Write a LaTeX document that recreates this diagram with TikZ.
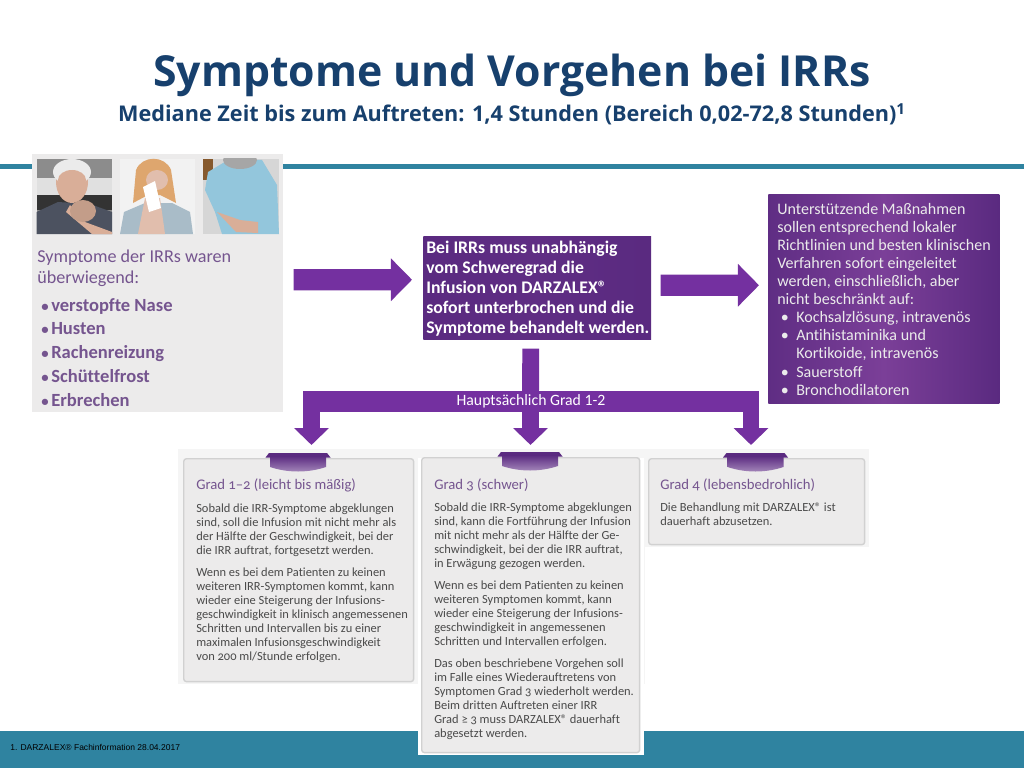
\documentclass[tikz,border=0pt]{standalone}
\usepackage{fontspec}
\usepackage{tikz}
\usetikzlibrary{arrows.meta}
\setmainfont[Ligatures=CommonOff]{Carlito}
\newfontfamily\titlefont{Open Sans}
\newfontfamily\footfont{Liberation Sans}
\newfontfamily\cardfont[Numbers=OldStyle,Ligatures=CommonOff]{Carlito}
\definecolor{teal}{HTML}{2F83A0}
\definecolor{navy}{HTML}{17406D}
\definecolor{arrowviolet}{HTML}{7430A0}
\definecolor{boxdark}{HTML}{5A2A80}
\definecolor{boxlight}{HTML}{7B3F98}
\definecolor{ribbonlight}{HTML}{A98DBE}
\definecolor{textviolet}{HTML}{75558F}
\definecolor{cardgrey}{HTML}{ECEBEB}
\definecolor{cardtext}{HTML}{4A4A4A}
\definecolor{skin}{HTML}{D9AE98}
\definecolor{shirt}{HTML}{4C5260}
\definecolor{sweater}{HTML}{A9BCC8}
\definecolor{jumper}{HTML}{93C6DC}
\newcommand{\symbullet}{\makebox[7.1pt][l]{\fontsize{10.5}{10}\selectfont\textbullet}}
\newcommand{\supbullet}{\hspace{2.5pt}\makebox[11pt][l]{\textbullet}}
\tikzset{
  Card/.style={rectangle, rounded corners=2pt, draw=black!18, line width=1pt, fill=cardgrey, anchor=north west, inner sep=0},
  CardHead/.style={anchor=north west, inner sep=0, align=left, text=textviolet, font=\cardfont\fontsize{10.45}{12}\selectfont},
  CardText/.style={anchor=north west, inner sep=0, align=left, text=cardtext, font=\cardfont\fontsize{8.85}{10}\selectfont},
  BlockRight/.style={draw=arrowviolet, line width=15pt, -{Triangle[length=15pt,width=29.5pt]}},
  BlockDown/.style={draw=arrowviolet, line width=12pt, -{Triangle[length=12pt,width=24pt]}},
  ribbon/.pic={
    \fill[boxdark] (-32.5,4.5) -- (-29,0) -- (29,0) -- (32.5,4.5) -- cycle;
    \shade[top color=boxdark, bottom color=ribbonlight] (-28,3) -- (28,3) -- (28,14) .. controls (10,20) and (-10,20) .. (-28,14) -- cycle;
  }
}
\begin{document}
\begin{tikzpicture}[x=0.025cm, y=-0.025cm]
    \useasboundingbox (0,0) rectangle (1024,768);

    % header and footer
    \fill[teal] (0,164) rectangle (1024,169);
    \fill[teal] (0,731) rectangle (1024,768);
    \path
    (512,75) node[font=\titlefont\bfseries\fontsize{30.4}{36}\selectfont, text=navy] (title) {Symptome und Vorgehen bei IRRs}
    (512,114) node[font=\titlefont\bfseries\fontsize{15.4}{18}\selectfont, text=navy] (subtitle) {Mediane Zeit bis zum Auftreten: 1,4 Stunden (Bereich 0,02-72,8 Stunden)\textsuperscript{1}}
    (10,747) node[anchor=west, inner sep=0, font=\footfont\fontsize{6.05}{7}\selectfont] (foot) {1. DARZALEX® Fachinformation 28.04.2017};

    % symptom panel
    \path (32,154) node[rectangle, fill=cardgrey, anchor=north west, inner sep=0, minimum width=251*0.711pt, minimum height=258*0.711pt] (symptoms) {};
    \begin{scope}
        \clip (36.5,159) rectangle (112,234);
        \fill[black!45] (36.5,159) rectangle (112,234);
        \fill[black!12] (36.5,178) rectangle (112,195);
        \fill[black!80] (36.5,195) rectangle (112,210);
        \fill[shirt] (36.5,234) -- (36.5,212) -- (58,202) -- (90,204) -- (112,212) -- (112,234) -- cycle;
        \fill[skin] (72,182) ellipse (16 and 21);
        \fill[black!8] (72,172) ellipse (19 and 13);
        \fill[skin] (72,180) ellipse (14 and 10);
        \fill[skin] (70,205) -- (85,222) -- (112,232) -- (112,234) -- (92,234) -- (66,212) -- cycle;
        \fill[skin!90!black] (83,211) ellipse (13 and 11);
    \end{scope}
    \begin{scope}
        \clip (119.5,159) rectangle (195,234);
        \fill[black!5] (119.5,159) rectangle (195,234);
        \fill[sweater] (120,234) -- (124,212) -- (145,203) -- (172,203) -- (190,212) -- (193,234) -- cycle;
        \fill[brown!75!orange!70] (133,203) -- (136,170) .. controls (142,155) and (165,155) .. (171,170) -- (176,203) -- (160,195) -- (148,195) -- cycle;
        \fill[skin!80!white] (157,180) ellipse (11 and 10);
        \fill[skin!80!white] (138,234) -- (145,198) -- (160,198) -- (165,234) -- cycle;
        \fill[white] (143,187) -- (155,181) -- (161,208) -- (149,212) -- cycle;
    \end{scope}
    \begin{scope}
        \clip (203,159) rectangle (279,234);
        \fill[black!16] (203,159) rectangle (279,234);
        \fill[brown!70!black] (203,159) rectangle (213,180);
        \fill[jumper] (215,212) -- (205,190) -- (208,172) -- (228,160) -- (262,160) -- (277,185) -- (279,234) -- (222,234) -- cycle;
        \fill[black!35] (240,160) ellipse (17 and 9);
        \fill[skin] (217,212) -- (240,220) -- (258,222) -- (258,233) -- (236,232) -- cycle;
    \end{scope}
    \path (37,250) node[anchor=north west, inner sep=0, align=left, text=textviolet, font=\fontsize{12.9}{15}\selectfont] (symphead) {Symptome der IRRs waren\\überwiegend:};
    \path (41,298) node[anchor=north west, inner sep=0, align=left, text=textviolet, font=\bfseries\fontsize{13.2}{16.9}\selectfont] (symplist)
    {\symbullet verstopfte Nase\\\symbullet Husten\\\symbullet Rachenreizung\\\symbullet Schüttelfrost\\\symbullet Erbrechen};

    % stop box
    \path (423,236) node[rectangle, left color=boxdark, right color=boxdark, middle color=boxdark!85!boxlight, anchor=north west, inner sep=0, minimum width=228*0.711pt, minimum height=103*0.711pt] (stop) {};
    \path (426,240.5) node[anchor=north west, inner sep=0, align=left, text=white, font=\bfseries\fontsize{12.6}{14.2}\selectfont] (stoptext)
    {Bei IRRs muss unabhängig\\vom Schweregrad die\\Infusion von DARZALEX®\\sofort unterbrochen und die\\Symptome behandelt werden.};

    % support box
    \path (768,194) node[rectangle, left color=boxdark!85!boxlight, right color=boxdark, middle color=boxlight, anchor=north west, inner sep=0, minimum width=231*0.711pt, minimum height=209*0.711pt] (support) {};
    \path (777,203) node[anchor=north west, inner sep=0, align=left, text=white!92!black, font=\fontsize{11.4}{12.85}\selectfont] (supporttext)
    {Unterstützende Maßnahmen\\sollen entsprechend lokaler\\Richtlinien und besten klinischen\\Verfahren sofort eingeleitet\\werden, einschließlich, aber\\nicht beschränkt auf:\\
    \supbullet Kochsalzlösung, intravenös\\\supbullet Antihistaminika und\\\hspace{13.5pt}Kortikoide, intravenös\\\supbullet Sauerstoff\\\supbullet Bronchodilatoren};

    % grade panels
    \fill[black!4] (178,449) rectangle (869,684);
    \fill[white] (645,547) rectangle (869,684);
    \fill[white] (418,458) rectangle (644,755);

    \path
    (183,458) node[Card, minimum width=230*0.711pt, minimum height=223*0.711pt] (card1) {}
    (421,457) node[Card, minimum width=218*0.711pt, minimum height=295*0.711pt] (card2) {}
    (648,458) node[Card, minimum width=216*0.711pt, minimum height=86*0.711pt] (card3) {};

    \coordinate (rib1) at (298,453);
    \coordinate (rib2) at (530,452);
    \coordinate (rib3) at (755.5,453);
    \path (rib1) pic {ribbon};
    \path (rib2) pic {ribbon};
    \path (rib3) pic {ribbon};

    \path
    (196,478) node[CardHead] (head1) {Grad 1–2 (leicht bis mäßig)}
    (434,478) node[CardHead] (head2) {Grad 3 (schwer)}
    (660,478) node[CardHead] (head3) {Grad 4 (lebensbedrohlich)};

    \path
    (196,503.5) node[CardText] (text1) {Sobald die IRR-Symptome abgeklungen\\sind, soll die Infusion mit nicht mehr als\\der Hälfte der Geschwindigkeit, bei der\\die IRR auftrat, fortgesetzt werden.\\[5.5pt]
    Wenn es bei dem Patienten zu keinen\\weiteren IRR-Symptomen kommt, kann\\wieder eine Steigerung der Infusions-\\geschwindigkeit in klinisch angemessenen\\Schritten und Intervallen bis zu einer\\maximalen Infusionsgeschwindigkeit\\von 200 ml/Stunde erfolgen.}
    (434,502.5) node[CardText] (text2) {Sobald die IRR-Symptome abgeklungen\\sind, kann die Fortführung der Infusion\\mit nicht mehr als der Hälfte der Ge-\\schwindigkeit, bei der die IRR auftrat,\\in Erwägung gezogen werden.\\[5.5pt]
    Wenn es bei dem Patienten zu keinen\\weiteren Symptomen kommt, kann\\wieder eine Steigerung der Infusions-\\geschwindigkeit in angemessenen\\Schritten und Intervallen erfolgen.\\[5.5pt]
    Das oben beschriebene Vorgehen soll\\im Falle eines Wiederauftretens von\\Symptomen Grad 3 wiederholt werden.\\Beim dritten Auftreten einer IRR\\Grad ≥ 3 muss DARZALEX® dauerhaft\\abgesetzt werden.}
    (660,502.5) node[CardText] (text3) {Die Behandlung mit DARZALEX® ist\\dauerhaft abzusetzen.};

    % block arrows
    \draw[BlockRight, shorten <=7.1pt, shorten >=7.8pt] ([yshift=2.5pt]symptoms.east) -- ([yshift=5.7pt]stop.west);
    \draw[BlockRight, shorten <=6.4pt, shorten >=6.4pt] ([yshift=1.8pt]stop.east) -- ([yshift=9.6pt]support.west);

    \coordinate (forkl) at (311.5,401.5);
    \coordinate (forkm) at (530.5,401.5);
    \coordinate (forkr) at (751,401.5);
    \coordinate (barl) at (303,401.5);
    \coordinate (barr) at (759,401.5);
    \draw[draw=arrowviolet, line width=12pt, shorten <=6.4pt] ([xshift=-4.6pt]stop.south) -- (forkm);
    \draw[BlockDown] (forkl) -- ([yshift=5.7pt]forkl |- rib1);
    \draw[BlockDown] (forkm) -- ([yshift=5pt]forkm |- rib2);
    \draw[BlockDown] (forkr) -- ([yshift=5.7pt]forkr |- rib3);
    \draw[draw=arrowviolet, line width=15pt] (barl) -- node[text=white, font=\fontsize{11.2}{12}\selectfont, inner sep=0] (barlabel) {Hauptsächlich Grad 1-2} (barr);
\end{tikzpicture}
\end{document}
